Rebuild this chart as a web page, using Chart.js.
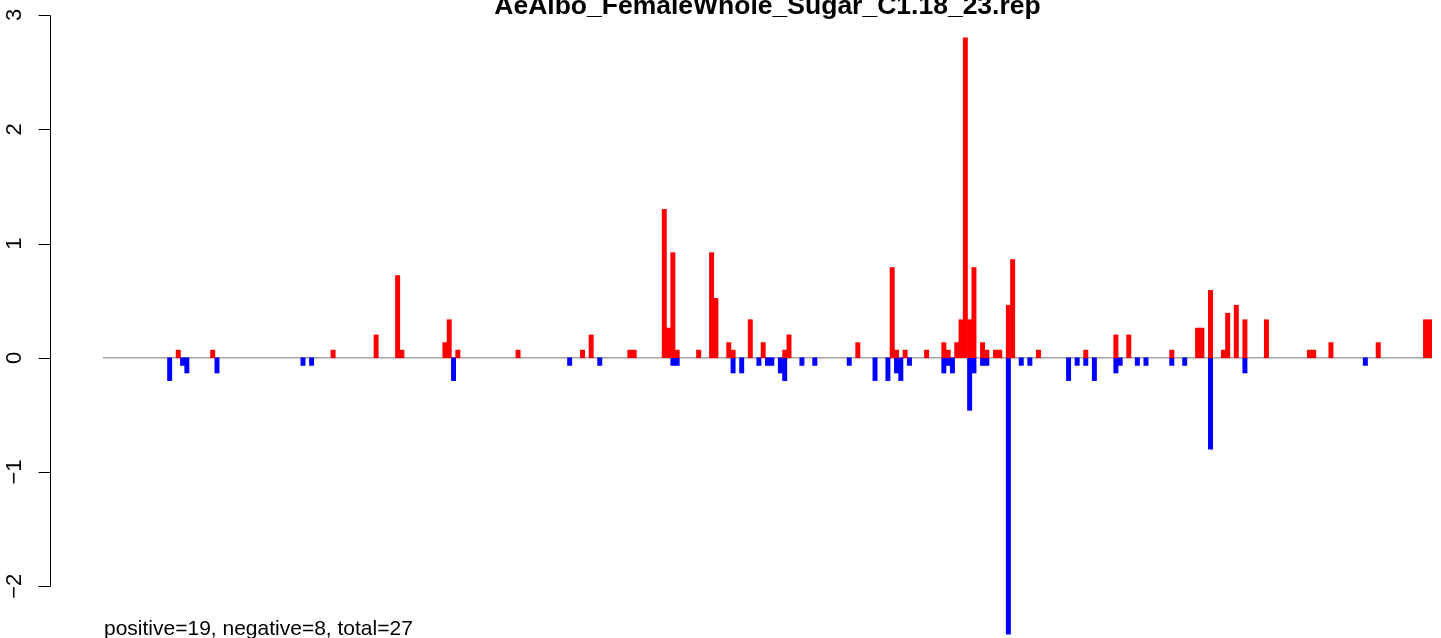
<!DOCTYPE html>
<html>
<head>
<meta charset="utf-8">
<script src="https://cdn.jsdelivr.net/npm/chart.js@4"></script>
<style>
  html, body { margin: 0; padding: 0; background: #fff; }
</style>
</head>
<body>
<canvas id="rep-chart" width="1441" height="638"></canvas>
<script>
var title = "AeAlbo_FemaleWhole_Sugar_C1.18_23.rep";
var footnote = "positive=19, negative=8, total=27";
var nBins = 309;

// bins with a positive score (red) and their values
var posIdx = [17, 25, 53, 63, 68, 69, 79, 80, 82, 96, 111, 113, 122, 123, 130, 131, 132, 133, 138,
  141, 142, 145, 146, 150, 153, 158, 159, 175, 183, 184, 186, 191, 195, 196, 198, 199, 200, 201, 202,
  204, 205, 207, 208, 210, 211, 217, 228, 235, 238, 248, 254, 255, 257, 260, 261, 263, 265, 270,
  280, 281, 285, 296, 307, 308];
var posVal = [0.067, 0.067, 0.067, 0.2, 0.72, 0.067, 0.133, 0.333, 0.067, 0.067, 0.067, 0.2, 0.067, 0.067,
  1.3, 0.26, 0.92, 0.067, 0.067, 0.92, 0.52, 0.133, 0.067, 0.333, 0.133, 0.067, 0.2, 0.133, 0.79, 0.067,
  0.067, 0.067, 0.133, 0.067, 0.133, 0.333, 2.8, 0.333, 0.79, 0.133, 0.067, 0.067, 0.067, 0.46, 0.86,
  0.067, 0.067, 0.2, 0.2, 0.067, 0.26, 0.26, 0.59, 0.067, 0.39, 0.46, 0.333, 0.333, 0.067, 0.067, 0.133,
  0.133, 0.333, 0.333];

// bins with a negative score (blue) and their values
var negIdx = [15, 18, 19, 26, 46, 48, 81, 108, 115, 132, 133, 146, 148, 152, 154, 155, 157, 158, 162,
  165, 173, 179, 182, 184, 185, 187, 195, 196, 197, 201, 202, 204, 205, 210, 213, 215, 224, 226, 228,
  230, 235, 236, 240, 242, 248, 251, 257, 265, 293];
var negVal = [-0.2, -0.067, -0.133, -0.133, -0.067, -0.067, -0.2, -0.067, -0.067, -0.067, -0.067, -0.133,
  -0.133, -0.067, -0.067, -0.067, -0.133, -0.2, -0.067, -0.067, -0.067, -0.2, -0.2, -0.133, -0.2, -0.067,
  -0.133, -0.067, -0.133, -0.46, -0.133, -0.067, -0.067, -2.42, -0.067, -0.067, -0.2, -0.067, -0.067,
  -0.2, -0.133, -0.067, -0.067, -0.067, -0.067, -0.067, -0.8, -0.133, -0.067];

var yTicks = [3, 2, 1, 0, -1, -2];
var yTickLabels = ["3", "2", "1", "0", "\u22121", "\u22122"];

function spread(idx, val) {
  var out = [];
  for (var i = 0; i < nBins; i++) out.push(null);
  for (var j = 0; j < idx.length; j++) out[idx[j]] = val[j];
  return out;
}

var labels = [];
for (var i = 0; i < nBins; i++) labels.push(String(i + 1));

// zero line, left axis, title and the count line, R style
var decor = {
  id: 'decor',
  beforeDatasetsDraw: function (chart) {
    var ctx = chart.ctx, a = chart.chartArea;
    var y0 = chart.scales.y.getPixelForValue(0);
    ctx.save();
    ctx.strokeStyle = '#a6a6a6';
    ctx.lineWidth = 1.5;
    ctx.beginPath();
    ctx.moveTo(a.left, y0);
    ctx.lineTo(a.right, y0);
    ctx.stroke();
    ctx.restore();
  },
  afterDraw: function (chart) {
    var ctx = chart.ctx, a = chart.chartArea, ys = chart.scales.y;
    var axisX = 50.5;
    ctx.save();
    ctx.strokeStyle = '#000';
    ctx.lineWidth = 1;
    ctx.beginPath();
    ctx.moveTo(axisX, Math.round(ys.getPixelForValue(yTicks[0])) + 0.5);
    ctx.lineTo(axisX, Math.round(ys.getPixelForValue(yTicks[yTicks.length - 1])) + 0.5);
    for (var k = 0; k < yTicks.length; k++) {
      var py = Math.round(ys.getPixelForValue(yTicks[k])) + 0.5;
      ctx.moveTo(axisX, py);
      ctx.lineTo(axisX - 12, py);
    }
    ctx.stroke();

    ctx.fillStyle = '#000';
    ctx.font = '22px "Liberation Sans", Arial, sans-serif';
    ctx.textAlign = 'center';
    ctx.textBaseline = 'alphabetic';
    for (var m = 0; m < yTicks.length; m++) {
      ctx.save();
      ctx.translate(20.5, ys.getPixelForValue(yTicks[m]));
      ctx.rotate(-Math.PI / 2);
      ctx.fillText(yTickLabels[m], 0, 0);
      ctx.restore();
    }

    ctx.font = 'bold 26.5px "Liberation Sans", Arial, sans-serif';
    ctx.fillText(title, (a.left + a.right) / 2, 14);

    ctx.font = '21px "Liberation Sans", Arial, sans-serif';
    ctx.textAlign = 'left';
    ctx.fillText(footnote, 104, 635);
    ctx.restore();
  }
};

new Chart(document.getElementById('rep-chart'), {
  type: 'bar',
  data: {
    labels: labels,
    datasets: [{
      label: 'positive',
      data: spread(posIdx, posVal),
      backgroundColor: '#ff0000',
      borderWidth: 0
    }, {
      label: 'negative',
      data: spread(negIdx, negVal),
      backgroundColor: '#0000ff',
      borderWidth: 0
    }]
  },
  options: {
    responsive: false,
    animation: false,
    devicePixelRatio: 1,
    layout: { padding: { left: 103, right: 9, top: 15, bottom: 2 } },
    datasets: { bar: { barPercentage: 1, categoryPercentage: 1, grouped: false } },
    scales: {
      x: { display: false },
      y: { display: false, min: -2.435, max: 3 }
    },
    plugins: { legend: { display: false }, tooltip: { enabled: false }, title: { display: false } }
  },
  plugins: [decor]
});
</script>
</body>
</html>
